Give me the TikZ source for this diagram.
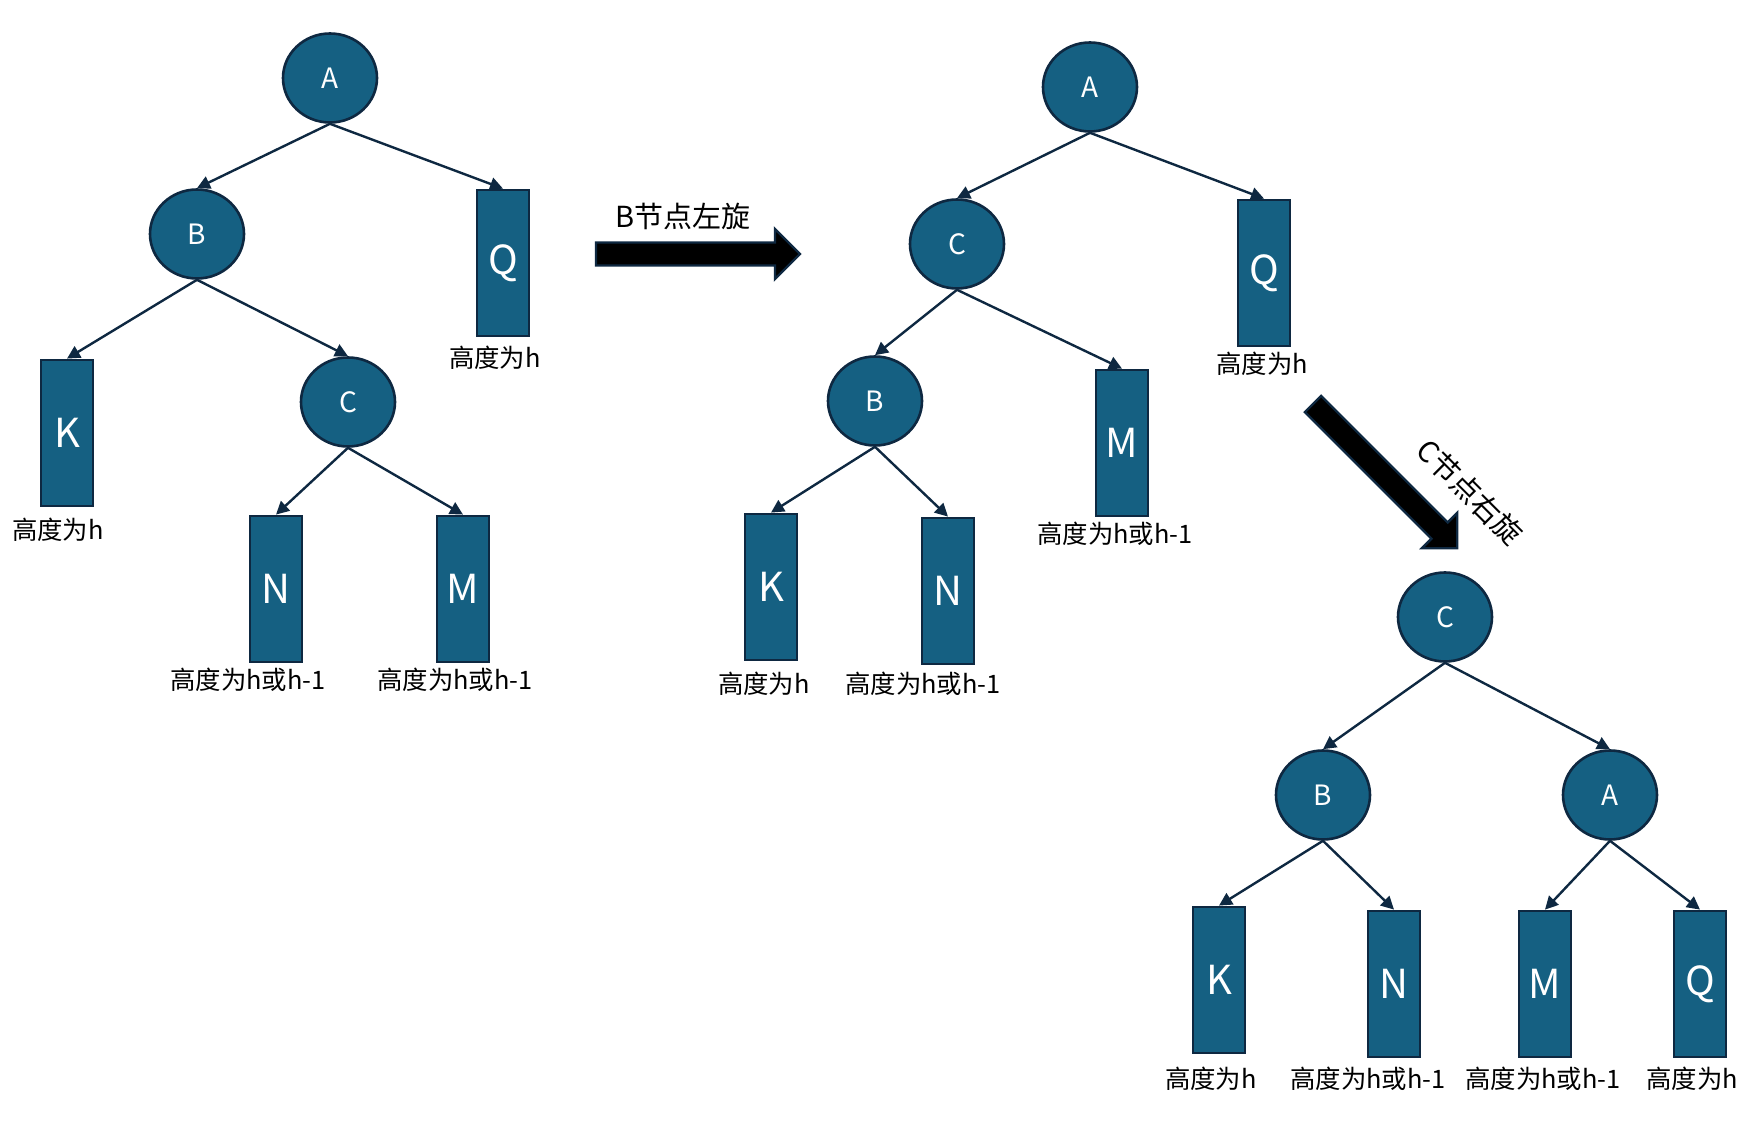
\documentclass[tikz,border=0pt]{standalone}
\usepackage{fontspec}
\setmainfont{Noto Sans CJK SC}
\usetikzlibrary{arrows.meta,shapes.geometric}
\definecolor{nodeblue}{HTML}{156082}
\definecolor{edgenavy}{HTML}{0E2841}
\tikzset{
  tnode/.style={ellipse,draw=edgenavy,line width=1.3pt,fill=nodeblue,minimum width=47pt,minimum height=44.5pt,inner sep=0pt,text=white,font=\fontsize{14}{16}\selectfont},
  leaf/.style={rectangle,draw=edgenavy,line width=1.4pt,fill=nodeblue,minimum width=26pt,minimum height=73pt,inner sep=0pt,text=white,font=\fontsize{20}{24}\selectfont},
  hlabel/.style={inner sep=0pt,font=\fontsize{12.7}{15}\selectfont},
  turnlabel/.style={inner sep=0pt,font=\fontsize{14.5}{17}\selectfont},
  link/.style={draw=edgenavy,line width=1.2pt,-{Triangle[length=6.5pt,width=6.5pt]}},
  bigarrow/.pic={\filldraw[draw=edgenavy,fill=black,line width=1.2pt] (0,-11.5) -- (179,-11.5) -- (179,-25) -- (204,0) -- (179,25) -- (179,11.5) -- (0,11.5) -- cycle;}
}
\begin{document}
\begin{tikzpicture}[x=0.5pt,y=-0.5pt]
\useasboundingbox (0,0) rectangle (1753,1122);
% tree before rotation
\node[tnode] (a1) at (330,78) {A};
\node[tnode] (b1) at (197,234) {B};
\node[leaf] (q1) at (503,263) {Q};
\node[leaf] (k1) at (67,433) {K};
\node[tnode] (c1) at (348,402) {C};
\node[leaf] (n1) at (276,589) {N};
\node[leaf] (m1) at (463,589) {M};
\node[hlabel] (q1h) at (495,358) {高度为h};
\node[hlabel] (k1h) at (58,530) {高度为h};
\node[hlabel] (n1h) at (248,680) {高度为h或h-1};
\node[hlabel] (m1h) at (455,680) {高度为h或h-1};
\draw[link] (a1.south) -- (b1.north);
\draw[link] (a1.south) -- (q1.north);
\draw[link] (b1.south) -- (k1.north);
\draw[link] (b1.south) -- (c1.north);
\draw[link] (c1.south) -- (n1.north);
\draw[link] (c1.south) -- (m1.north);
% left rotation of B
\pic at (596,254) {bigarrow};
\node[turnlabel] (leftturn) at (683,216) {B节点左旋};
% tree after left rotation
\node[tnode] (a2) at (1090,87) {A};
\node[tnode] (c2) at (957,244) {C};
\node[leaf] (q2) at (1264,273) {Q};
\node[tnode] (b2) at (875,401) {B};
\node[leaf] (m2) at (1122,443) {M};
\node[leaf] (k2) at (771,587) {K};
\node[leaf] (n2) at (948,591) {N};
\node[hlabel] (q2h) at (1262,364) {高度为h};
\node[hlabel] (m2h) at (1115,534) {高度为h或h-1};
\node[hlabel] (k2h) at (764,684) {高度为h};
\node[hlabel] (n2h) at (923,684) {高度为h或h-1};
\draw[link] (a2.south) -- (c2.north);
\draw[link] (a2.south) -- (q2.north);
\draw[link] (c2.south) -- (b2.north);
\draw[link] (c2.south) -- (m2.north);
\draw[link] (b2.south) -- (k2.north);
\draw[link] (b2.south) -- (n2.north);
% right rotation of C
\pic[rotate=-45] at (1313,404) {bigarrow};
\node[turnlabel,rotate=-45] (rightturn) at (1470,492) {C节点右旋};
% tree after right rotation
\node[tnode] (c3) at (1445,617) {C};
\node[tnode] (b3) at (1323,795) {B};
\node[tnode] (a3) at (1610,795) {A};
\node[leaf] (k3) at (1219,980) {K};
\node[leaf] (n3) at (1394,984) {N};
\node[leaf] (m3) at (1545,984) {M};
\node[leaf] (q3) at (1700,984) {Q};
\node[hlabel] (k3h) at (1211,1079) {高度为h};
\node[hlabel] (n3h) at (1368,1079) {高度为h或h-1};
\node[hlabel] (m3h) at (1543,1079) {高度为h或h-1};
\node[hlabel] (q3h) at (1692,1079) {高度为h};
\draw[link] (c3.south) -- (b3.north);
\draw[link] (c3.south) -- (a3.north);
\draw[link] (b3.south) -- (k3.north);
\draw[link] (b3.south) -- (n3.north);
\draw[link] (a3.south) -- (m3.north);
\draw[link] (a3.south) -- (q3.north);
\end{tikzpicture}
\end{document}
